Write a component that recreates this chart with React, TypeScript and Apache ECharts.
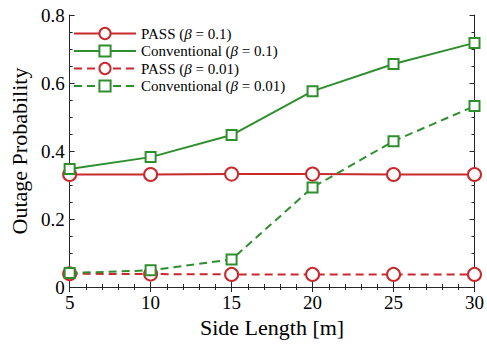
import React, { useEffect, useRef } from "react";
import * as echarts from "echarts";

const sideLength = [5, 10, 15, 20, 25, 30];
const passBeta01 = [0.331, 0.331, 0.332, 0.332, 0.331, 0.331];
const convBeta01 = [0.347, 0.382, 0.447, 0.576, 0.656, 0.718];
const passBeta001 = [0.039, 0.038, 0.037, 0.037, 0.037, 0.037];
const convBeta001 = [0.041, 0.049, 0.081, 0.293, 0.429, 0.532];
const seriesNames = ["PASS (β = 0.1)", "Conventional (β = 0.1)", "PASS (β = 0.01)", "Conventional (β = 0.01)"];

const RED = "#c8292d";
const GREEN = "#2f8f2f";
const FONT = "Liberation Serif";

export default function App() {
  const ref = useRef<HTMLDivElement>(null);
  useEffect(() => {
    if (!ref.current) return;
    const chart = echarts.init(ref.current, null, { renderer: "svg" });
    const pair = (ys: number[]) => sideLength.map((x, i) => [x, ys[i]]);
    const mk = (name: string, ys: number[], color: string, circle: boolean, dashed: boolean) => ({
      name,
      type: "line",
      data: pair(ys),
      symbol: circle ? "circle" : "rect",
      symbolSize: circle ? 13 : 10,
      showAllSymbol: true,
      lineStyle: { color, width: 2, type: dashed ? [8, 5] : "solid" },
      itemStyle: { color: "#fff", borderColor: color, borderWidth: 2 },
      emphasis: { disabled: true },
      z: circle ? 2 : 3,
    });
    const axisLine = { show: true, lineStyle: { color: "#262626", width: 1 } };
    const axisTick = { show: true, inside: true, length: 5, lineStyle: { color: "#262626" } };
    const minor = (n: number) => ({ show: true, splitNumber: n, length: 3, lineStyle: { color: "#262626" } });
    chart.setOption({
      animation: false,
      textStyle: { fontFamily: FONT },
      grid: { left: 63, right: 12, top: 15, bottom: 57 },
      legend: {
        left: 73,
        top: 26,
        padding: 0,
        orient: "vertical",
        itemWidth: 62,
        itemHeight: 14,
        itemGap: 2.5,
        data: seriesNames,
        formatter: (name: string) => {
          const m = name.match(/^(.*)\(β = (.*)\)$/);
          if (!m) return name;
          return `{n|${m[1]}(}{b|β}{n| = ${m[2]})}`;
        },
        textStyle: {
          fontFamily: FONT,
          fontSize: 15,
          color: "#000",
          rich: {
            n: { fontFamily: FONT, fontSize: 15, color: "#000", lineHeight: 14 },
            b: { fontFamily: FONT, fontSize: 15, color: "#000", fontStyle: "italic", lineHeight: 14 },
          },
        },
      },
      xAxis: [
        {
          type: "value",
          min: 5,
          max: 30,
          interval: 5,
          name: "Side Length [m]",
          nameLocation: "middle",
          nameGap: 24,
          nameTextStyle: { fontFamily: FONT, fontSize: 22, color: "#000" },
          axisLabel: { fontFamily: FONT, fontSize: 19, color: "#000", margin: 6 },
          minorTick: minor(5),
          axisLine,
          axisTick,
          splitLine: { show: false },
        },
        {
          type: "value",
          position: "top",
          min: 5,
          max: 30,
          interval: 5,
          axisLabel: { show: false },
          minorTick: minor(5),
          axisLine,
          axisTick,
          splitLine: { show: false },
        },
      ],
      yAxis: [
        {
          type: "value",
          min: 0,
          max: 0.8,
          interval: 0.2,
          name: "Outage Probability",
          nameLocation: "middle",
          nameGap: 36,
          nameTextStyle: { fontFamily: FONT, fontSize: 22, color: "#000" },
          axisLabel: { fontFamily: FONT, fontSize: 19, color: "#000", margin: 5, formatter: (v: number) => (v === 0 ? "0" : String(+v.toFixed(1))) },
          minorTick: minor(4),
          axisLine,
          axisTick,
          splitLine: { show: false },
        },
        {
          type: "value",
          position: "right",
          min: 0,
          max: 0.8,
          interval: 0.2,
          axisLabel: { show: false },
          minorTick: minor(4),
          axisLine,
          axisTick,
          splitLine: { show: false },
        },
      ],
      series: [
        mk(seriesNames[0], passBeta01, RED, true, false),
        mk(seriesNames[1], convBeta01, GREEN, false, false),
        mk(seriesNames[2], passBeta001, RED, true, true),
        mk(seriesNames[3], convBeta001, GREEN, false, true),
      ],
    });
    return () => chart.dispose();
  }, []);
  return <div ref={ref} style={{ width: 487, height: 344, position: "absolute", left: 0, top: 0, background: "#fff" }} />;
}
